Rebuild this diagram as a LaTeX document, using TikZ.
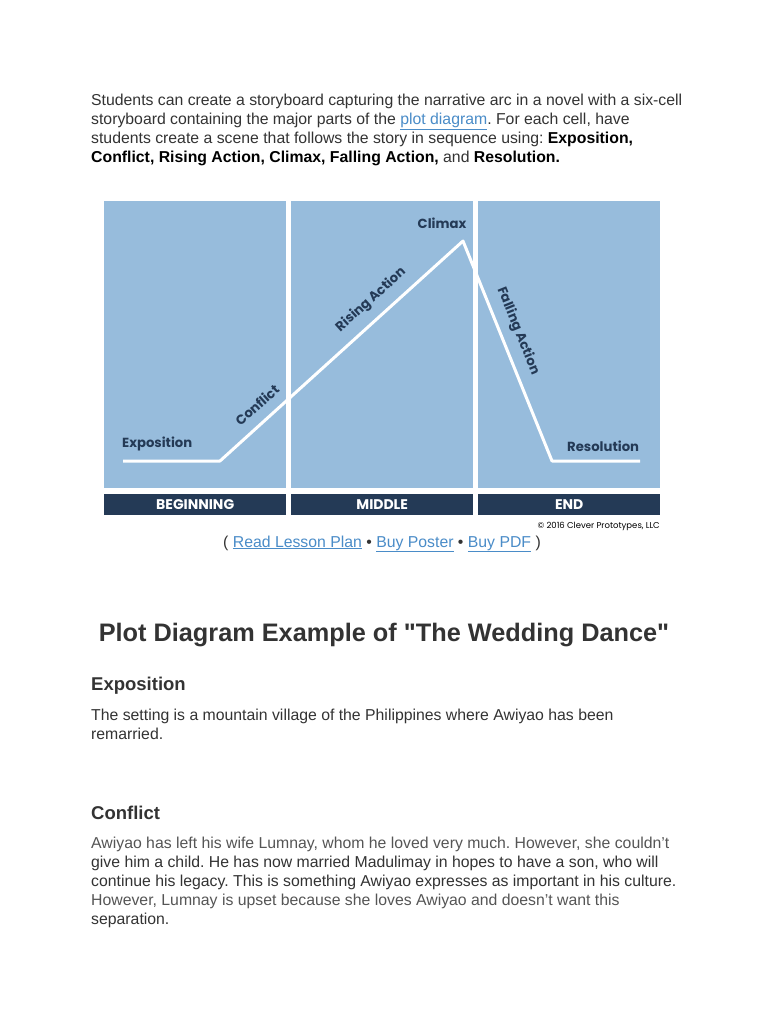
\documentclass[tikz,border=0pt]{standalone}
\usepackage{fontspec}
\setmainfont{Liberation Sans}
\newfontfamily\gothic{Poppins}
\usetikzlibrary{positioning}

\definecolor{panelblue}{HTML}{97BCDC}
\definecolor{navy}{HTML}{243A56}
\definecolor{bodygray}{HTML}{333333}
\definecolor{lightgray}{HTML}{555555}
\definecolor{linkblue}{HTML}{4A8CC8}

\newcommand{\weblink}[1]{{\color{linkblue}\underline{#1}}}

\begin{document}
\frenchspacing
\begin{tikzpicture}[x=1pt, y=-1pt,
    panel/.style={fill=panelblue, draw=none, inner sep=0pt, anchor=north west,
                  minimum width=182pt, minimum height=287pt},
    bar/.style={fill=navy, inner sep=0pt, anchor=north west, minimum width=182pt,
                minimum height=21pt, text=white, font=\gothic\bfseries\fontsize{14}{15}\selectfont},
    stage/.style={text=navy, inner sep=0pt, font=\gothic\bfseries\fontsize{13.2}{14}\selectfont},
    plotline/.style={draw=white, line width=3pt, line join=round},
    para/.style={anchor=base west, inner sep=0pt, text=bodygray, font=\fontsize{15.8}{19}\selectfont},
    lightpara/.style={para, text=lightgray},
    heading/.style={anchor=base west, inner sep=0pt, text=bodygray, font=\bfseries\fontsize{18.5}{20}\selectfont}
]

    % Page
    \fill[white] (0,0) rectangle (768,1024);
    \useasboundingbox (0,0) rectangle (768,1024);

    % Intro paragraph
    \node[para] (intro1) at (91,106) {Students can create a storyboard capturing the narrative arc in a novel with a six-cell};
    \node[para] (intro2) at (91,125) {storyboard containing the major parts of the \weblink{plot diagram}. For each cell, have};
    \node[para] (intro3) at (91,144) {students create a scene that follows the story in sequence using: {\color{black}\bfseries Exposition,}};
    \node[para] (intro4) at (91,163) {{\color{black}\bfseries Conflict, Rising Action, Climax, Falling Action,} and {\color{black}\bfseries Resolution.}};

    % Panels
    \node[panel] (beginning) at (104,201) {};
    \node[panel] (middle) at (291,201) {};
    \node[panel] (end) at (478,201) {};

    % Bars
    \node[bar] (beginbar) at (104,494) {BEGINNING};
    \node[bar] (middlebar) at (291,494) {MIDDLE};
    \node[bar] (endbar) at (478,494) {END};

    % Plot line
    \coordinate (expoStart) at (123,461);
    \coordinate (expoEnd) at (220,461);
    \coordinate (peak) at (463,241);
    \coordinate (resStart) at (552,461);
    \coordinate (resEnd) at (640,461);
    \draw[plotline] (expoStart) -- (expoEnd) -- (peak) -- (resStart) -- (resEnd);

    % Stage labels
    \node[stage, anchor=west] (expoLabel) at (122,444) {Exposition};
    \node[stage, rotate=42] (conflictLabel) at (257,405) {Conflict};
    \node[stage, rotate=42] (risingLabel) at (371,300) {Rising Action};
    \node[stage] (climaxLabel) at (442,223) {Climax};
    \node[stage, rotate=-68] (fallingLabel) at (518,331) {Falling Action};
    \node[stage, anchor=west] (resLabel) at (567,446) {Resolution};

    % Copyright
    \node[anchor=east, inner sep=0pt, font=\gothic\fontsize{8.5}{9}\selectfont] (copyright) at (660,526) {\textcopyright{} 2016 Clever Prototypes, LLC};

    % Links
    \node[anchor=base, inner sep=0pt, text=bodygray, font=\fontsize{15.8}{19}\selectfont] (links) at (382,547)
        {( \weblink{Read Lesson Plan} \textbullet{} \weblink{Buy Poster} \textbullet{} \weblink{Buy PDF} )};

    % Title
    \node[anchor=base, inner sep=0pt, text=bodygray, font=\bfseries\fontsize{25.3}{28}\selectfont] (title) at (384,641)
        {Plot Diagram Example of \textquotedbl The Wedding Dance\textquotedbl};

    % Exposition
    \node[heading] (expoHead) at (91,690) {Exposition};
    \node[para] (expo1) at (91,720) {The setting is a mountain village of the Philippines where Awiyao has been};
    \node[para] (expo2) at (91,739) {remarried.};

    % Conflict
    \node[heading] (conflictHead) at (91,819) {Conflict};
    \node[lightpara] (conflict1) at (91,848) {Awiyao has left his wife Lumnay, whom he loved very much. However, she couldn't};
    \node[para] (conflict2) at (91,867) {give him a child. He has now married Madulimay in hopes to have a son, who will};
    \node[para] (conflict3) at (91,886) {continue his legacy. This is something Awiyao expresses as important in his culture.};
    \node[lightpara] (conflict4) at (91,905) {However, Lumnay is upset because she loves Awiyao and doesn't want this};
    \node[para] (conflict5) at (91,924) {separation.};

\end{tikzpicture}
\end{document}
